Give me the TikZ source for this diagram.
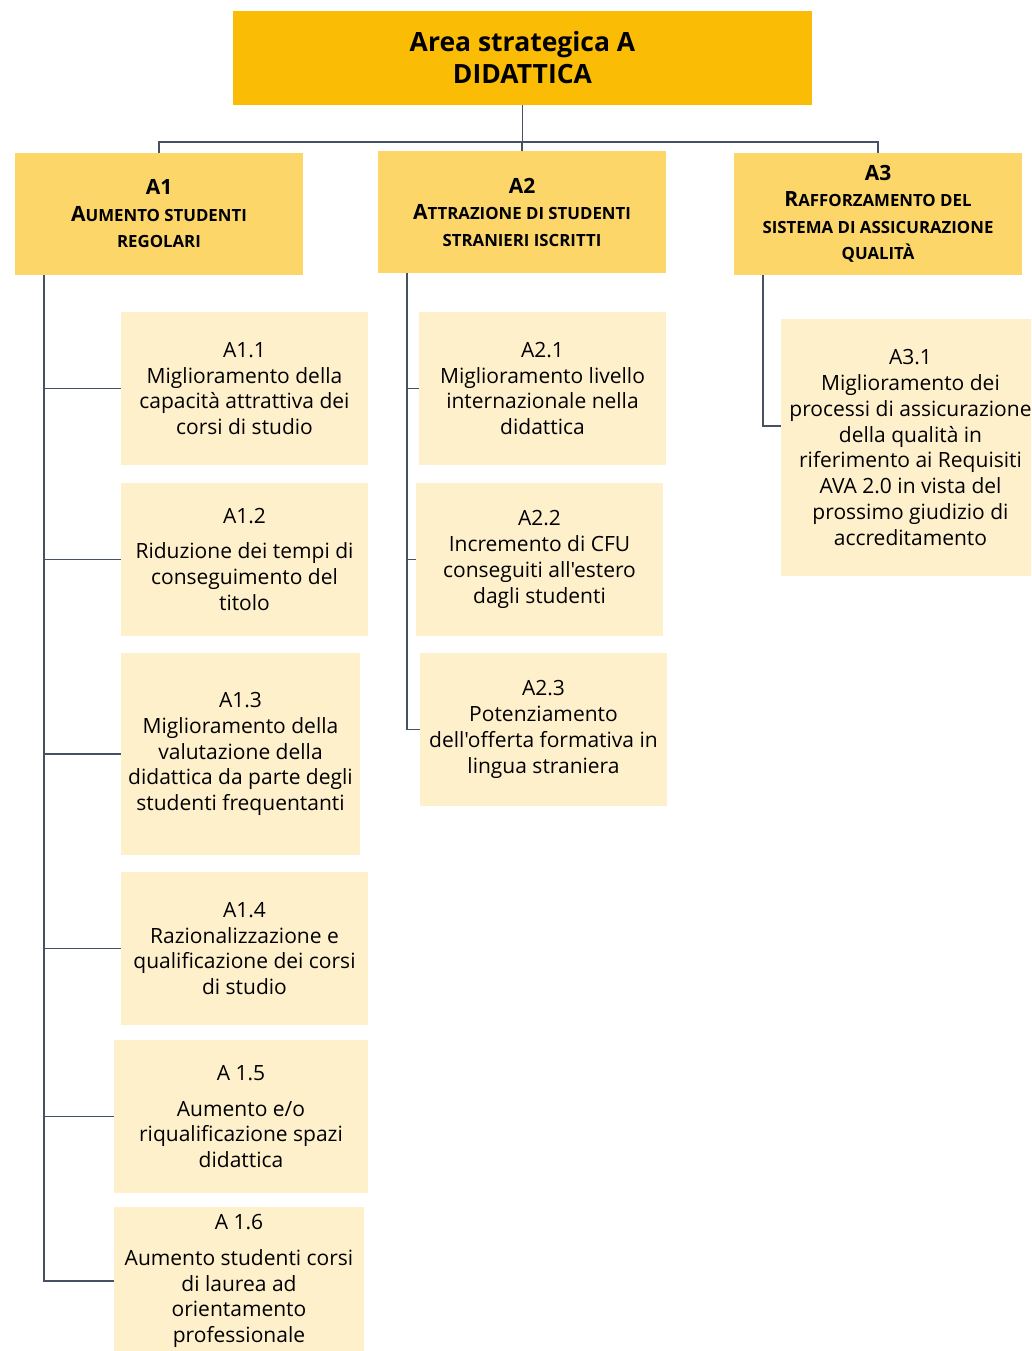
\documentclass[tikz,border=0pt]{standalone}
\usepackage{fontspec}
\setmainfont{Open Sans}[Ligatures=TeXOff]
\definecolor{topc}{RGB}{251,188,5}
\definecolor{hdrc}{RGB}{252,214,104}
\definecolor{leafc}{RGB}{255,240,204}
\definecolor{linec}{RGB}{70,82,100}
\newcommand{\bigC}[1]{{\fontsize{21}{26.5}\selectfont #1}}
\newcommand{\smC}[1]{{\fontsize{16.8}{26.5}\selectfont #1}}
\begin{document}
\begin{tikzpicture}[x=1pt,y=-1pt,
  box/.style={inner sep=0pt, align=center, anchor=center},
  topbox/.style={box, fill=topc, font=\fontsize{26.5}{32}\selectfont\bfseries},
  hdr/.style={box, fill=hdrc, minimum width=288, minimum height=122, font=\fontsize{21}{26.5}\selectfont\bfseries},
  leaf/.style={box, fill=leafc, font=\fontsize{21}{25.8}\selectfont},
  conn/.style={draw=linec, line width=1.5pt}]
\useasboundingbox (0,0) rectangle (1031,1351);
\clip (0,0) rectangle (1031,1351);

\node[topbox, minimum width=579, minimum height=94] (top) at (522.5,58) {Area strategica A\\DIDATTICA};

\node[hdr] (a1) at (159,214) {A1\\\bigC{A}\smC{UMENTO STUDENTI}\\\smC{REGOLARI}};
\node[hdr] (a2) at (522,212) {A2\\\bigC{A}\smC{TTRAZIONE DI STUDENTI}\\\smC{STRANIERI ISCRITTI}};
\node[hdr] (a3) at (878,214) {A3\\\bigC{R}\smC{AFFORZAMENTO DEL}\\\smC{SISTEMA DI ASSICURAZIONE}\\\smC{QUALITÀ}};

\node[leaf, minimum width=247, minimum height=153] (a11) at (244.5,388.5) {A1.1\\Miglioramento della\\capacità attrattiva dei\\corsi di studio};
\node[leaf, minimum width=247, minimum height=153] (a12) at (244.5,559.5) {A1.2\\[9pt]Riduzione dei tempi di\\conseguimento del\\titolo};
\node[leaf, minimum width=239, minimum height=202] (a13) at (240.5,754) {A1.3\\Miglioramento della\\valutazione della\\didattica da parte degli\\studenti frequentanti};
\node[leaf, minimum width=247, minimum height=153] (a14) at (244.5,948.5) {A1.4\\Razionalizzazione e\\qualificazione dei corsi\\di studio};
\node[leaf, minimum width=254, minimum height=153] (a15) at (241,1116.5) {A 1.5\\[10pt]Aumento e/o\\riqualificazione spazi\\didattica};
\node[leaf, minimum width=250, minimum height=148] (a16) at (239,1281) {A 1.6\\[10pt]Aumento studenti corsi\\di laurea ad\\orientamento\\professionale};

\node[leaf, minimum width=247, minimum height=153] (a21) at (542.5,388.5) {A2.1\\Miglioramento livello\\internazionale nella\\didattica};
\node[leaf, minimum width=247, minimum height=153] (a22) at (539.5,559.5) {A2.2\\Incremento di CFU\\conseguiti all'estero\\dagli studenti};
\node[leaf, minimum width=247, minimum height=153] (a23) at (543.5,729.5) {A2.3\\Potenziamento\\dell'offerta formativa in\\lingua straniera};

\node[leaf, minimum width=259, minimum height=257] (a31) at (910.5,447.5) {A3.1\\Miglioramento dei\\processi di assicurazione\\della qualità in\\riferimento ai Requisiti\\AVA 2.0 in vista del\\prossimo giudizio di\\accreditamento};

\coordinate (bus) at (522.5,142);
\draw[conn] (top.south) -- (bus);
\draw[conn] (bus) -| (a1.north);
\draw[conn] (bus) -| (a2.north);
\draw[conn] (bus) -| (a3.north);

\foreach \c in {a11,a12,a13,a14,a15,a16}
  \draw[conn] ([xshift=29pt]a1.south west) |- (\c.west);
\foreach \c in {a21,a22,a23}
  \draw[conn] ([xshift=29pt]a2.south west) |- (\c.west);
\draw[conn] ([xshift=29pt]a3.south west) |- ([yshift=21.5pt]a31.west);
\end{tikzpicture}
\end{document}
